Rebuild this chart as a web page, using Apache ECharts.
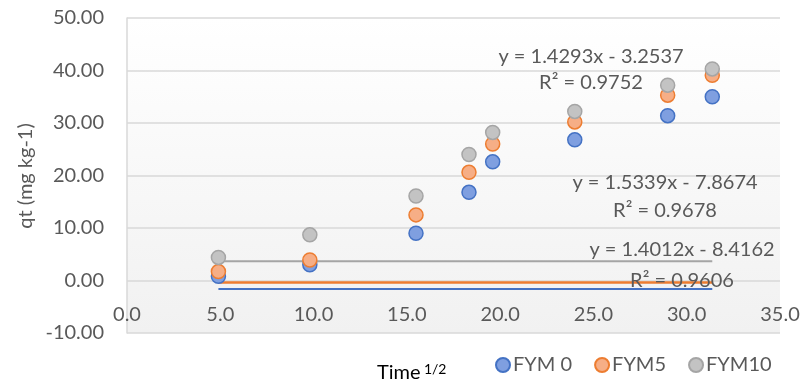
<!DOCTYPE html>
<html>
<head>
<meta charset="utf-8">
<script src="https://cdn.jsdelivr.net/npm/echarts@6/dist/echarts.min.js"></script>
<style>
html,body{margin:0;padding:0;background:#fff;}
#c{width:804px;height:383px;}
</style>
</head>
<body>
<div id="c"></div>
<script>
const timeSqrt = [4.90, 9.80, 15.49, 18.33, 19.60, 24.00, 28.98, 31.37];
const fym0 = [0.8, 3.0, 9.0, 16.8, 22.6, 26.8, 31.4, 35.0];
const fym5 = [1.7, 3.9, 12.5, 20.6, 26.0, 30.2, 35.3, 39.1];
const fym10 = [4.4, 8.7, 16.1, 24.0, 28.2, 32.2, 37.2, 40.3];
const trendX = [4.90, 31.37];
const trend0 = [-1.6, -1.6];
const trend5 = [-0.4, -0.4];
const trend10 = [3.65, 3.65];
const seriesNames = ['FYM 0', 'FYM5', 'FYM10'];
const eqLabels = [
  ['y = 1.4293x - 3.2537', 'R² = 0.9752'],
  ['y = 1.5339x - 7.8674', 'R² = 0.9678'],
  ['y = 1.4012x - 8.4162', 'R² = 0.9606']
];
const xTitle = 'Time';
const xTitleSup = '1/2';
const yTitle = 'qt (mg kg-1)';

const FONT = 'Lato';
const TXT = '#595959';
const pair = (xs, ys) => xs.map((x, i) => [x, ys[i]]);

const markerColors = [
  {fill: '#7f9fe0', border: '#4472c4'},
  {fill: '#f6ae86', border: '#ed7d31'},
  {fill: '#c3c3c3', border: '#a5a5a5'}
];
const lineColors = ['#4472c4', '#ed7d31', '#a5a5a5'];

const chart = echarts.init(document.getElementById('c'));
const scatter = (name, data, k) => ({
  name, type: 'scatter', data: pair(timeSqrt, data), symbol: 'circle', symbolSize: 14, z: 5,
  itemStyle: {color: markerColors[k].fill, borderColor: markerColors[k].border, borderWidth: 1.5, opacity: 1}
});
const trend = (data, k, w) => ({
  type: 'line', data: pair(trendX, data), symbol: 'none', silent: true, z: 3,
  lineStyle: {color: lineColors[k], width: w}
});

function eqText(lines, cx, cy1, cy2) {
  return [
    {type: 'text', x: cx, y: cy1, style: {text: lines[0], fill: TXT, font: '20px ' + FONT, align: 'center', verticalAlign: 'middle'}, z: 10},
    {type: 'text', x: cx, y: cy2, style: {text: lines[1], fill: TXT, font: '20px ' + FONT, align: 'center', verticalAlign: 'middle'}, z: 10}
  ];
}

chart.setOption({
  backgroundColor: '#ffffff',
  animation: false,
  grid: {
    left: 127, right: 24, top: 18, bottom: 50, show: true, borderWidth: 0,
    backgroundColor: new echarts.graphic.LinearGradient(0, 0, 0, 1, [
      {offset: 0, color: '#ffffff'}, {offset: 1, color: '#f1f1f1'}
    ])
  },
  xAxis: {
    type: 'value', min: 0, max: 35, interval: 5, position: 'bottom', offset: -28,
    axisLine: {show: false, onZero: false},
    axisTick: {show: false},
    splitLine: {show: false},
    axisLabel: {color: TXT, fontFamily: FONT, fontSize: 20, margin: 0, formatter: v => v.toFixed(1), showMaxLabel: true}
  },
  yAxis: {
    type: 'value', min: -10, max: 50, interval: 10,
    axisLine: {show: true, lineStyle: {color: '#d9d9d9', width: 1.5}},
    axisTick: {show: false},
    splitLine: {show: true, lineStyle: {color: '#d9d9d9', width: 1.5}},
    axisLabel: {color: TXT, fontFamily: FONT, fontSize: 20, margin: 23, formatter: v => v.toFixed(2)}
  },
  legend: {
    data: seriesNames, top: 350, left: 490, icon: 'circle', itemWidth: 14, itemHeight: 14, itemGap: 22,
    textStyle: {color: TXT, fontFamily: FONT, fontSize: 20, padding: [0, 0, 0, -2]}
  },
  graphic: [
    {type: 'text', x: 26, y: 176, rotation: Math.PI / 2, style: {text: yTitle, fill: TXT, font: '20px ' + FONT, align: 'center', verticalAlign: 'middle'}},
    {type: 'text', x: 377, y: 373, style: {
      text: '{a|' + xTitle + '} {b|' + xTitleSup + '}', verticalAlign: 'middle',
      rich: {a: {fontSize: 20, fontFamily: FONT, color: TXT}, b: {fontSize: 14, fontFamily: FONT, color: TXT, padding: [0, 0, 8, 0]}}
    }},
    ...eqText(eqLabels[0], 591, 57, 83),
    ...eqText(eqLabels[1], 665, 183, 211),
    ...eqText(eqLabels[2], 682, 250, 281)
  ],
  series: [
    trend(trend10, 2, 2),
    trend(trend5, 1, 2.5),
    trend(trend0, 0, 2),
    scatter(seriesNames[0], fym0, 0),
    scatter(seriesNames[1], fym5, 1),
    scatter(seriesNames[2], fym10, 2)
  ]
});
</script>
</body>
</html>
